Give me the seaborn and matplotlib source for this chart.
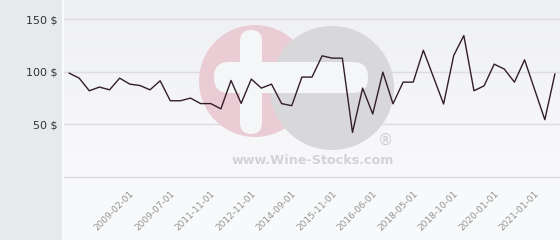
import numpy as np
import pandas as pd
import matplotlib
matplotlib.use("Agg")
import matplotlib.pyplot as plt
import seaborn as sns
from matplotlib.patches import Circle, FancyBboxPatch, Rectangle
from matplotlib.transforms import IdentityTransform

# ---- data ----
prices = [98.8, 94.0, 82.0, 85.5, 82.9, 94.0, 88.3, 87.0, 82.9, 91.5,
          72.5, 72.5, 75.0, 69.8, 69.8, 64.8, 91.8, 70.0, 93.1, 84.5,
          88.3, 69.8, 67.8, 95.0, 95.0, 115.2, 113.0, 113.0, 42.4, 84.5,
          59.9, 99.7, 69.6, 90.2, 90.2, 120.5, 95.0, 69.4, 115.5, 134.5,
          82.0, 86.7, 107.3, 102.6, 90.2, 111.4, 83.0, 54.5, 98.1]
tick_labels = ["2009-02-01", "2009-07-01", "2011-11-01", "2012-11-01",
               "2014-09-01", "2015-11-01", "2016-06-01", "2018-05-01",
               "2018-10-01", "2020-01-01", "2021-01-01"]
tick_index = list(range(6, 49, 4))
y_ticks = [50, 100, 150]

df = pd.DataFrame({"idx": np.arange(len(prices)), "price": prices})

sns.set_style("white")
plt.rcParams["font.family"] = ["DejaVu Sans"]

W, H = 560, 240
fig = plt.figure(figsize=(W / 100, H / 100), dpi=100, facecolor="#f8f9fa")
# left grey panel
fig.patches.append(Rectangle((0, 0), 62 / W, 1, transform=fig.transFigure,
                             facecolor="#e7eaed", edgecolor="none", zorder=-5))
fig.patches.append(Rectangle((62 / W, 0), 2 / W, 1, transform=fig.transFigure,
                             facecolor="#fafbfc", edgecolor="none", zorder=-5))

ax = fig.add_axes([64 / W, 63 / H, (W - 64) / W, 177 / H])
ax.set_facecolor("#f3f4f7")
# subtle vertical gradient in the plot area (darker at top)
grad = np.linspace(0, 1, 64).reshape(-1, 1)
cmap = matplotlib.colors.LinearSegmentedColormap.from_list(
    "bg", ["#eff0f4", "#f9f9fb"])
ax.imshow(grad, cmap=cmap, aspect="auto", extent=(0, 1, 0, 1),
          origin="upper", transform=ax.transAxes, zorder=0)

sns.lineplot(data=df, x="idx", y="price", ax=ax, color="#321e28",
             linewidth=1.0, zorder=3)

ax.set_xlim(-0.5, len(prices) - 0.5)
ax.set_ylim(0, 168.3)
ax.set_yticks(y_ticks)
ax.set_yticklabels([f"{v} $" for v in y_ticks])
ax.set_xticks(tick_index)
ax.set_xticklabels(tick_labels, rotation=45, ha="right",
                   rotation_mode="anchor")
ax.set_xlabel("")
ax.set_ylabel("")
ax.grid(axis="y", color="#dcdce1", linewidth=1.0, zorder=0.6)
ax.grid(axis="x", visible=False)
ax.set_axisbelow(True)
for s in ["top", "right", "left"]:
    ax.spines[s].set_visible(False)
ax.spines["bottom"].set_color("#dcdce1")
ax.spines["bottom"].set_linewidth(1.0)
ax.tick_params(axis="y", length=0, pad=5, labelsize=8, labelcolor="#333333")
ax.tick_params(axis="x", length=0, pad=9, labelsize=6.5, labelcolor="#939393")

# ---- watermark (pixel coordinates, y from top) ----
T = IdentityTransform()
def P(x, y):
    return (x, H - y)

ax.add_patch(Circle(P(255, 81), 56, facecolor="#eaccd4", edgecolor="none",
                    transform=T, zorder=1.0))
ax.add_patch(Circle(P(332, 88), 62, facecolor="#d8d8db", edgecolor="none",
                    transform=T, zorder=1.1))
ax.add_patch(FancyBboxPatch(P(240, 134), 22, 104,
                            boxstyle="round,pad=0,rounding_size=11",
                            facecolor="#f5f6f8", edgecolor="none",
                            transform=T, zorder=1.2))
ax.add_patch(FancyBboxPatch(P(214, 93), 154, 31,
                            boxstyle="round,pad=0,rounding_size=15",
                            facecolor="#f5f6f8", edgecolor="none",
                            transform=T, zorder=1.2))
ax.text(*P(386, 140), "®", transform=T, fontsize=11, color="#cdcdd1",
        ha="center", va="center", zorder=1.3)
ax.text(*P(313, 160), "www.Wine-Stocks.com", transform=T, fontsize=9.2,
        fontweight="bold", color="#d3d3d7", ha="center", va="center",
        zorder=1.3)

fig.savefig("out.png", dpi=100, facecolor=fig.get_facecolor())
